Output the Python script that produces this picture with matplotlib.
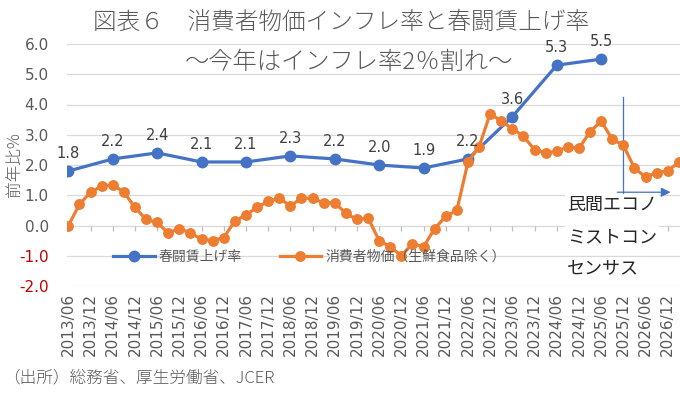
import numpy as np
import matplotlib
matplotlib.use("Agg")
import matplotlib.pyplot as plt
from matplotlib.lines import Line2D

plt.rcParams['font.family'] = ['Noto Sans CJK JP', 'DejaVu Sans']

# ---- data ----
quarter_labels = ["2013/06", "2013/12", "2014/06", "2014/12", "2015/06", "2015/12",
                  "2016/06", "2016/12", "2017/06", "2017/12", "2018/06", "2018/12",
                  "2019/06", "2019/12", "2020/06", "2020/12", "2021/06", "2021/12",
                  "2022/06", "2022/12", "2023/06", "2023/12", "2024/06", "2024/12",
                  "2025/06", "2025/12", "2026/06", "2026/12"]

# core CPI (ex fresh food), quarterly from 2013/06
cpi = [0.0, 0.7, 1.1, 1.3, 1.35, 1.1, 0.6, 0.2, 0.1, -0.25, -0.1, -0.25, -0.45, -0.5,
       -0.4, 0.15, 0.35, 0.6, 0.8, 0.9, 0.65, 0.9, 0.9, 0.75, 0.75, 0.4, 0.2, 0.25,
       -0.5, -0.7, -1.0, -0.6, -0.7, -0.1, 0.3, 0.5, 2.1, 2.6, 3.7, 3.45, 3.2, 2.95,
       2.5, 2.4, 2.45, 2.6, 2.55, 3.1, 3.45, 2.85, 2.65, 1.9, 1.6, 1.75, 1.8, 2.1]

# shunto wage increase, each June 2013-2025
wage = [1.8, 2.2, 2.4, 2.1, 2.1, 2.3, 2.2, 2.0, 1.9, 2.2, 3.6, 5.3, 5.5]

blue = '#4472C4'
orange = '#ED7D31'
grid_c = '#D9D9D9'
text_c = '#595959'

W, H = 680, 396
fig = plt.figure(figsize=(W / 100, H / 100), dpi=100)
ax_left, ax_top, ax_bot = 66.7, 44, 286
ax = fig.add_axes([ax_left / W, 1 - ax_bot / H, 1 - ax_left / W, (ax_bot - ax_top) / H])

xq = np.arange(len(cpi))
xw = np.arange(len(wage)) * 4

ax.set_xlim(-0.15, 55.1)
ax.set_ylim(-2, 6)

for s in ax.spines.values():
    s.set_visible(False)

yt = np.arange(-2, 7, 1.0)
for v in yt:
    ax.axhline(v, color=grid_c, lw=0.9, zorder=0)
# small tick marks on the zero axis
ax.vlines(xq[2::2], -0.17, 0, color='#BFBFBF', lw=0.9, zorder=0)

ax.set_yticks(yt)
ax.set_yticklabels([f"{v:.1f}" for v in yt], family='DejaVu Sans', fontsize=11)
for lab, v in zip(ax.get_yticklabels(), yt):
    lab.set_color('#C00000' if v < 0 else text_c)
ax.tick_params(axis='y', length=0, pad=13)

ax.set_xticks(xq[::2])
ax.set_xticklabels(quarter_labels, rotation=90, family='DejaVu Sans', fontsize=11, color=text_c)
ax.tick_params(axis='x', length=0, pad=5)

ax.plot(xw, wage, color=blue, lw=2.3, marker='o', ms=7.5, zorder=3, label='春闘賃上げ率')
ax.plot(xq, cpi, color=orange, lw=2.3, marker='o', ms=6.8, zorder=4,
        label='消費者物価（生鮮食品除く）', clip_on=True)

for x, v in zip(xw, wage):
    ax.annotate(f"{v:.1f}", (x, v), xytext=(0, 7), textcoords='offset points',
                ha='center', va='bottom', fontsize=10.5, color='#404040',
                family='DejaVu Sans', zorder=5)

# forecast marker: vertical line and arrow
ax.plot([50, 50], [1.0, 4.25], color=blue, lw=0.9, zorder=2)
ax.annotate('', xy=(54.5, 1.1), xytext=(49.2, 1.1),
            arrowprops=dict(arrowstyle='-|>', color=blue, lw=0.9, mutation_scale=14),
            zorder=2)

for txt, yy in zip(['民間エコノ', 'ミストコン', 'センサス'], [205, 237, 268]):
    fig.text(567 / W, 1 - yy / H, txt, fontsize=13, color='#262626', va='center', ha='left',
             bbox=dict(facecolor='white', edgecolor='none', pad=1.5), zorder=6)

handles = [Line2D([], [], color=blue, lw=2.3, marker='o', ms=7.5),
           Line2D([], [], color=orange, lw=2.3, marker='o', ms=6.8)]
leg = fig.legend(handles, ['春闘賃上げ率', '消費者物価（生鮮食品除く）'], loc='center left',
                 bbox_to_anchor=(113 / W, 1 - 257 / H), ncol=2, frameon=False,
                 fontsize=10, handlelength=3.0, handletextpad=0.3, columnspacing=2.7,
                 borderpad=0, borderaxespad=0)
for t in leg.get_texts():
    t.set_color(text_c)

fig.text(341 / W, 1 - 22 / H, '図表６　消費者物価インフレ率と春闘賃上げ率', fontsize=17,
         color=text_c, ha='center', va='center', fontweight='light')
fig.text(349 / W, 1 - 62 / H, '～今年はインフレ率2％割れ～', fontsize=17.5,
         color=text_c, ha='center', va='center', fontweight='light')

fig.text(15 / W, 1 - 165 / H, '前年比%', rotation=90, fontsize=12, color=text_c,
         ha='center', va='center', fontweight='light')
fig.text(3 / W, 1 - 378 / H, '（出所）総務省、厚生労働省、JCER', fontsize=12, color=text_c,
         ha='left', va='center', fontweight='light')

fig.savefig('out.png', dpi=100)
